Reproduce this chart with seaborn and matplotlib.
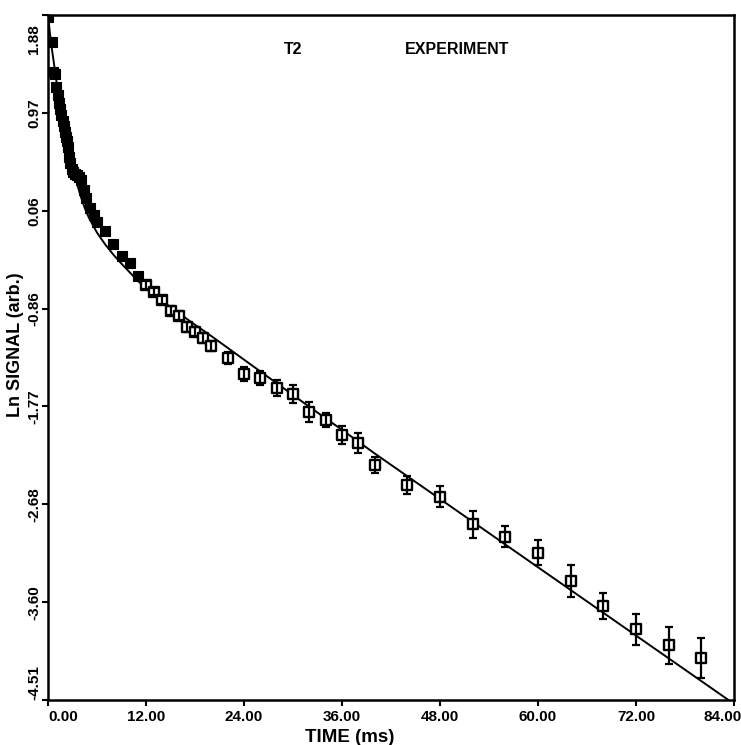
import numpy as np
import pandas as pd
import matplotlib
matplotlib.use("Agg")
import matplotlib.pyplot as plt
import matplotlib.transforms as mtrans
import seaborn as sns

# ---------------- data ----------------
filled_t = [0.0, 0.43, 0.65, 0.9, 1.04, 1.2, 1.36, 1.5, 1.65, 1.8, 1.93, 2.05,
            2.18, 2.32, 2.46, 2.6, 2.74, 2.88, 3.1, 3.3, 3.49, 3.8, 4.1, 4.38,
            4.71, 5.12, 5.6, 6.0, 7, 8, 9, 10, 11]
filled_y = [1.86, 1.63, 1.35, 1.33, 1.21, 1.13, 1.06, 1.00, 0.95, 0.89, 0.84,
            0.79, 0.74, 0.70, 0.65, 0.56, 0.50, 0.44, 0.42, 0.40, 0.39, 0.37,
            0.34, 0.25, 0.17, 0.08, 0.01, -0.05, -0.135, -0.256, -0.368,
            -0.433, -0.555]

open_t = [12, 13, 14, 15, 16, 17, 18, 19, 20, 22, 24, 26, 28, 30, 32, 34, 36,
          38, 40, 44, 48, 52, 56, 60, 64, 68, 72, 76, 80]
open_y = [-0.639, -0.701, -0.778, -0.878, -0.925, -1.028, -1.074, -1.133,
          -1.208, -1.319, -1.469, -1.506, -1.599, -1.655, -1.823, -1.898,
          -2.038, -2.112, -2.317, -2.504, -2.613, -2.871, -2.986, -3.135,
          -3.399, -3.633, -3.850, -4.000, -4.118]
open_err = [0.035, 0.035, 0.04, 0.04, 0.04, 0.045, 0.045, 0.045, 0.05, 0.055,
            0.065, 0.065, 0.075, 0.085, 0.095, 0.065, 0.085, 0.095, 0.075,
            0.085, 0.096, 0.128, 0.10, 0.118, 0.149, 0.117, 0.143, 0.171, 0.188]

fit_t = [0, 0.25, 0.5, 0.8, 1.2, 1.6, 2.0, 2.5, 3.0, 3.5, 4.0, 4.5, 5.0, 5.5,
         6.0, 7.0, 8.0, 9.0, 10, 11, 12, 13, 14, 16, 18, 20, 24, 28, 32, 36,
         40, 84]
fit_y = [1.88, 1.70, 1.55, 1.39, 1.17, 0.98, 0.81, 0.62, 0.46, 0.32, 0.19,
         0.08, -0.01, -0.08, -0.15, -0.26, -0.355, -0.44, -0.52, -0.60, -0.67,
         -0.73, -0.79, -0.90, -1.01, -1.115, -1.335, -1.555, -1.775, -1.99,
         -2.21, -4.546]

xticks = [0, 12, 24, 36, 48, 60, 72, 84]
xtick_labels = ["0.00", "12.00", "24.00", "36.00", "48.00", "60.00", "72.00", "84.00"]
ytick_labels = ["-4.51", "-3.60", "-2.68", "-1.77", "-0.86", "0.06", "0.97", "1.88"]
ymin, ymax = -4.51, 1.88

# ---------------- figure ----------------
sns.set_style("ticks")
plt.rcParams["font.family"] = ["Liberation Sans", "DejaVu Sans"]
plt.rcParams["font.weight"] = "bold"
plt.rcParams["text.color"] = "black"
plt.rcParams["axes.labelcolor"] = "black"
plt.rcParams["xtick.color"] = "black"
plt.rcParams["ytick.color"] = "black"
plt.rcParams["axes.edgecolor"] = "black"

fig = plt.figure(figsize=(7.41, 7.45), dpi=100)
W, H = 741, 745
ax = fig.add_axes([48 / W, 1 - 700 / H, (734 - 48) / W, (700 - 15) / H])

df_fit = pd.DataFrame({"t": fit_t, "y": fit_y})
df_filled = pd.DataFrame({"t": filled_t, "y": filled_y})
df_open = pd.DataFrame({"t": open_t, "y": open_y, "err": open_err})

sns.lineplot(data=df_fit, x="t", y="y", ax=ax, color="black", linewidth=1.4,
             sort=False, zorder=2)
sns.scatterplot(data=df_filled, x="t", y="y", ax=ax, marker="s", s=42,
                color="black", edgecolor="black", linewidth=0.8, zorder=3)
sns.scatterplot(data=df_open, x="t", y="y", ax=ax, marker="s", s=52,
                facecolor="white", edgecolor="black", linewidth=1.7, zorder=3)
ax.errorbar(df_open["t"], df_open["y"], yerr=df_open["err"], fmt="none",
            ecolor="black", elinewidth=1.6, capsize=3.2, capthick=1.6, zorder=4)

ax.set_xlim(0, 84)
ax.set_ylim(ymin, ymax)
yticks = np.linspace(ymin, ymax, len(ytick_labels))
ax.set_xticks(xticks)
ax.set_xticklabels(xtick_labels, fontsize=11, fontweight="bold", color="black")
ax.set_yticks(yticks)
ax.set_yticklabels(ytick_labels, fontsize=11, fontweight="bold", rotation=90,
                   va="center", color="black")
ax.set_xlabel("")
ax.set_ylabel("")

for side in ["left", "right", "top", "bottom"]:
    ax.spines[side].set_visible(True)
    ax.spines[side].set_linewidth(1.8)
    ax.spines[side].set_color("black")
ax.tick_params(axis="x", direction="out", length=4, width=1.5, pad=3, colors="black")
ax.tick_params(axis="y", direction="out", length=4, width=1.5, pad=0.8, colors="black")

# edge tick label alignment (as in the reference)
xl = ax.get_xticklabels()
xl[0].set_horizontalalignment("left")
xl[-1].set_transform(xl[-1].get_transform() +
                     mtrans.ScaledTranslation(-11 / 100, 0, fig.dpi_scale_trans))
yl = ax.get_yticklabels()
yl[0].set_verticalalignment("bottom")
yl[-1].set_transform(yl[-1].get_transform() +
                     mtrans.ScaledTranslation(0, -24 / 100, fig.dpi_scale_trans))

fig.text(350 / W, 1 - 737 / H, "TIME (ms)", ha="center", va="center",
         fontsize=13.5, fontweight="bold", color="black")
fig.text(16 / W, 1 - 345 / H, "Ln SIGNAL (arb.)", ha="center", va="center",
         rotation=90, fontsize=13, fontweight="bold", color="black")
fig.text(293 / W, 1 - 50 / H, "T2", ha="center", va="center",
         fontsize=11.5, fontweight="bold", color="black")
fig.text(457 / W, 1 - 50 / H, "EXPERIMENT", ha="center", va="center",
         fontsize=11.5, fontweight="bold", color="black")

fig.savefig("out.png", dpi=100, facecolor="white")
